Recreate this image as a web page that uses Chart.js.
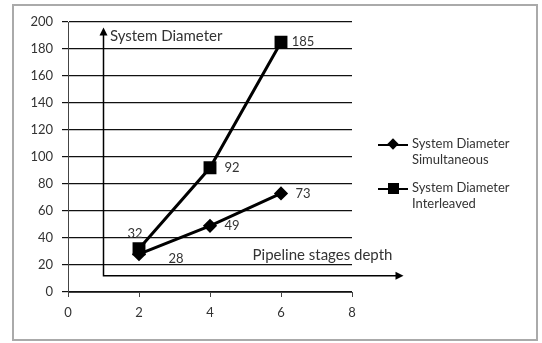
<!DOCTYPE html>
<html>
<head>
<meta charset="utf-8">
<script src="https://cdn.jsdelivr.net/npm/chart.js@4"></script>
<style>
  body { margin: 0; background: #fff; }
  #wrap { position: relative; width: 542px; height: 343px; }
  #frame { position: absolute; left: 12px; top: 4px; width: 522px; height: 333px; border: 2px solid #aaa; }
  canvas { position: absolute; left: 0; top: 0; }
  .leg { position: absolute; left: 378px; font: 13px Lato, sans-serif; color: #333; }
  .leg .mk { position: absolute; left: 0; width: 30px; height: 2px; background: #000; }
  .leg .txt { position: absolute; left: 34px; line-height: 16px; white-space: nowrap; }
  .leg .sq { position: absolute; left: 10px; top: -5px; width: 11px; height: 11px; background: #000; }
  .leg .dm { position: absolute; left: 11px; top: -4px; width: 8px; height: 8px; background: #000; transform: rotate(45deg); }
</style>
</head>
<body>
<div id="wrap">
  <div id="frame"></div>
  <canvas id="myChart" width="542" height="343"></canvas>
  <div class="leg" style="top:144px">
    <div class="mk"><div class="dm"></div></div>
    <div class="txt" style="top:-9px">System Diameter<br>Simultaneous</div>
  </div>
  <div class="leg" style="top:188px">
    <div class="mk"><div class="sq"></div></div>
    <div class="txt" style="top:-9px">System Diameter<br>Interleaved</div>
  </div>
</div>
<script>
// pipeline stages depth
const stages = [2, 4, 6];
const simultaneous = [28, 49, 73];
const interleaved = [32, 92, 185];
const seriesNames = ["System Diameter Simultaneous", "System Diameter Interleaved"];

// where each value label sits relative to its point
const simLabelPos = ["belowRight", "right", "right"];
const intLabelPos = ["above", "right", "right"];

// hand-drawn axes inside the plot (data units)
const arrowOrigin = [1, 12];
const arrowTopY = 196;
const arrowRightX = 9.45;
const notes = [
    { text: "System Diameter", x: 1.18, y: 189.5 },
    { text: "Pipeline stages depth", x: 5.2, y: 27.5 }
];

const font = "Lato, sans-serif";

const extras = {
    id: "extras",
    afterDatasetsDraw(chart) {
        const ctx = chart.ctx;
        const xs = chart.scales.x;
        const ys = chart.scales.y;
        ctx.save();
        // value labels
        ctx.font = "13px " + font;
        ctx.fillStyle = "#333";
        ctx.textBaseline = "middle";
        ctx.textAlign = "center";
        const posList = [simLabelPos, intLabelPos];
        chart.data.datasets.forEach((ds, di) => {
            chart.getDatasetMeta(di).data.forEach((pt, i) => {
                const where = posList[di][i];
                let lx = pt.x + 22, ly = pt.y;
                if (where === "above") { lx = pt.x - 4; ly = pt.y - 15; }
                if (where === "belowRight") { lx = pt.x + 37; ly = pt.y + 5; }
                ctx.fillText(String(ds.data[i].y), lx, ly);
            });
        });

        // arrows
        const ox = xs.getPixelForValue(arrowOrigin[0]);
        const oy = ys.getPixelForValue(arrowOrigin[1]);
        const ty = ys.getPixelForValue(arrowTopY);
        const rx = xs.getPixelForValue(arrowRightX);
        ctx.strokeStyle = "#000";
        ctx.fillStyle = "#000";
        ctx.lineWidth = 1.5;
        ctx.beginPath();
        ctx.moveTo(ox, ty + 6);
        ctx.lineTo(ox, oy);
        ctx.lineTo(rx - 6, oy);
        ctx.stroke();
        ctx.beginPath();
        ctx.moveTo(ox, ty);
        ctx.lineTo(ox - 4, ty + 8);
        ctx.lineTo(ox + 4, ty + 8);
        ctx.closePath();
        ctx.fill();
        ctx.beginPath();
        ctx.moveTo(rx, oy);
        ctx.lineTo(rx - 8, oy - 4);
        ctx.lineTo(rx - 8, oy + 4);
        ctx.closePath();
        ctx.fill();

        // axis notes
        ctx.font = "15px " + font;
        ctx.fillStyle = "#333";
        ctx.textAlign = "left";
        notes.forEach(n => {
            ctx.fillText(n.text, xs.getPixelForValue(n.x), ys.getPixelForValue(n.y));
        });
        ctx.restore();
    }
};

new Chart("myChart", {
    type: "line",
    data: {
        datasets: [{
            label: seriesNames[0],
            data: stages.map((s, i) => ({ x: s, y: simultaneous[i] })),
            borderColor: "#000",
            backgroundColor: "#000",
            borderWidth: 3,
            pointStyle: "rectRot",
            pointRadius: 5,
            pointHoverRadius: 5
        }, {
            label: seriesNames[1],
            data: stages.map((s, i) => ({ x: s, y: interleaved[i] })),
            borderColor: "#000",
            backgroundColor: "#000",
            borderWidth: 3,
            pointStyle: "rect",
            pointRadius: 7,
            pointHoverRadius: 7
        }]
    },
    options: {
        responsive: false,
        animation: false,
        layout: { padding: { left: 0, top: 22, right: 190, bottom: 0 } },
        plugins: {
            legend: { display: false },
            tooltip: { enabled: false }
        },
        scales: {
            x: {
                type: "linear",
                min: 0,
                max: 8,
                afterFit: (s) => { s.height = 51; },
                ticks: { stepSize: 2, color: "#333", font: { family: font, size: 13 }, padding: 8 },
                grid: { drawOnChartArea: false, color: "#444", tickLength: 5 },
                border: { color: "#444", width: 1 }
            },
            y: {
                min: 0,
                max: 200,
                afterFit: (s) => { s.width = 68; },
                ticks: { stepSize: 20, color: "#333", font: { family: font, size: 13 }, padding: 9 },
                grid: { color: "#111", lineWidth: 1.2, tickLength: 6 },
                border: { color: "#444", width: 1 }
            }
        }
    },
    plugins: [extras]
});
</script>
</body>
</html>
